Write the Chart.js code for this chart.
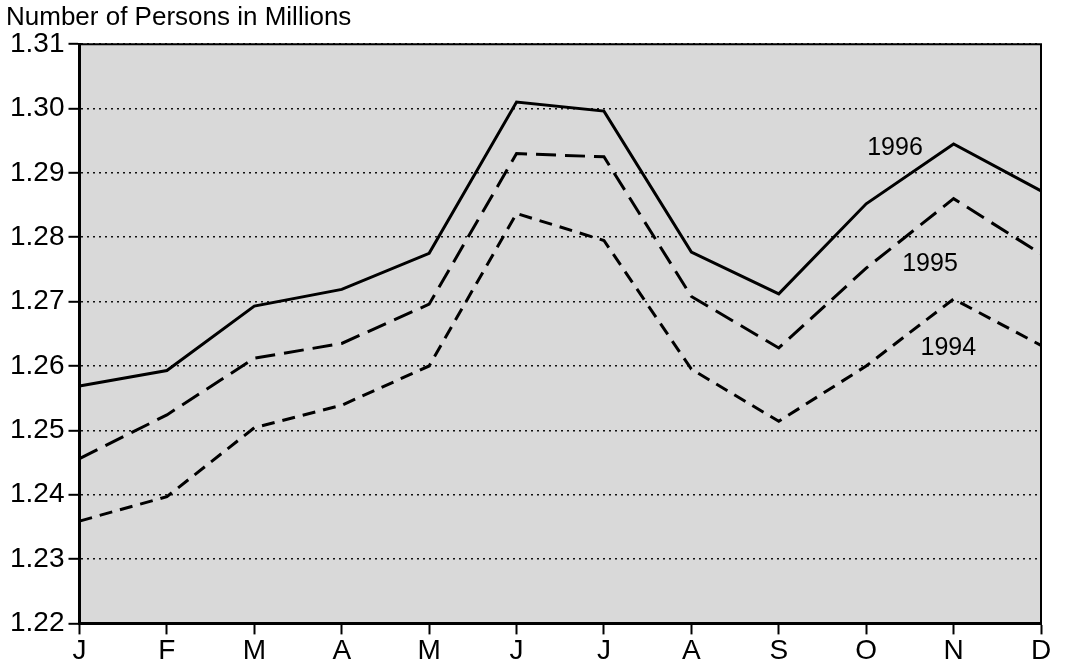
<!DOCTYPE html>
<html>
<head>
<meta charset="utf-8">
<script src="https://cdn.jsdelivr.net/npm/chart.js@4/dist/chart.umd.min.js"></script>
<style>
  html, body { margin: 0; padding: 0; background: #fff; }
  #wrap { width: 1068px; height: 668px; }
</style>
</head>
<body>
<div id="wrap"><canvas id="chart"></canvas></div>
<script>
const months = ['J', 'F', 'M', 'A', 'M', 'J', 'J', 'A', 'S', 'O', 'N', 'D'];
const y1996 = [1.2569, 1.2593, 1.2693, 1.2719, 1.2775, 1.3010, 1.2996, 1.2777, 1.2712, 1.2852, 1.2945, 1.2872];
const y1995 = [1.2456, 1.2524, 1.2612, 1.2635, 1.2696, 1.2930, 1.2925, 1.2708, 1.2628, 1.2752, 1.2860, 1.2774];
const y1994 = [1.2359, 1.2397, 1.2504, 1.2539, 1.2600, 1.2837, 1.2795, 1.2595, 1.2514, 1.2600, 1.2704, 1.2632];
const yMin = 1.22;
const yMax = 1.31;
const yStep = 0.01;

// series labels placed in data units (x = month index, y = value)
const seriesLabels = [
  { text: '1996', x: 9.33, y: 1.2939 },
  { text: '1995', x: 9.73, y: 1.2758 },
  { text: '1994', x: 9.94, y: 1.2627 }
];

const FONT = "'Liberation Sans', Arial, sans-serif";

const plotBackground = {
  id: 'plotBackground',
  beforeDraw(chart) {
    const { ctx, chartArea: a } = chart;
    ctx.save();
    ctx.fillStyle = '#d9d9d9';
    ctx.fillRect(a.left, a.top, a.right - a.left, a.bottom - a.top);
    ctx.restore();
  }
};

// box round the plot + the year labels next to the lines
const frameAndLabels = {
  id: 'frameAndLabels',
  afterDraw(chart) {
    const { ctx, chartArea: a, scales } = chart;
    ctx.save();
    ctx.setLineDash([]);
    ctx.strokeStyle = '#000';
    ctx.lineWidth = 2;
    ctx.beginPath();
    ctx.moveTo(a.left, a.top);
    ctx.lineTo(a.right, a.top);
    ctx.lineTo(a.right, a.bottom);
    ctx.stroke();
    ctx.lineWidth = 3;
    ctx.beginPath();
    ctx.moveTo(a.left, a.top);
    ctx.lineTo(a.left, a.bottom);
    ctx.lineTo(a.right, a.bottom);
    ctx.stroke();

    ctx.fillStyle = '#000';
    ctx.font = '25px ' + FONT;
    ctx.textAlign = 'center';
    ctx.textBaseline = 'middle';
    seriesLabels.forEach(l => {
      ctx.fillText(l.text, scales.x.getPixelForValue(l.x), scales.y.getPixelForValue(l.y));
    });
    ctx.restore();
  }
};

function lineSet(label, data, dash) {
  return {
    label: label,
    data: data,
    borderColor: '#000',
    borderWidth: 3,
    borderDash: dash,
    pointRadius: 0,
    tension: 0,
    fill: false
  };
}

new Chart(document.getElementById('chart'), {
  type: 'line',
  data: {
    labels: months,
    datasets: [
      lineSet('1996', y1996, []),
      lineSet('1995', y1995, [20, 9]),
      lineSet('1994', y1994, [13, 8])
    ]
  },
  options: {
    responsive: true,
    maintainAspectRatio: false,
    animation: false,
    devicePixelRatio: 1,
    layout: { padding: { left: 6, right: 27, top: 0, bottom: 0 } },
    plugins: {
      legend: { display: false },
      tooltip: { enabled: false },
      title: {
        display: true,
        text: 'Number of Persons in Millions',
        align: 'start',
        color: '#000',
        font: { family: FONT, size: 26, weight: 'normal' },
        padding: { top: 2, bottom: 11 }
      }
    },
    scales: {
      x: {
        offset: false,
        grid: {
          drawOnChartArea: false,
          drawTicks: true,
          tickLength: 11,
          tickWidth: 2,
          tickColor: '#000'
        },
        border: { display: true, color: '#000', width: 3 },
        ticks: {
          color: '#000',
          font: { family: FONT, size: 28 },
          padding: 0,
          maxRotation: 0,
          autoSkip: false
        }
      },
      y: {
        min: yMin,
        max: yMax,
        grid: {
          color: '#111',
          lineWidth: 1.6,
          drawTicks: true,
          tickLength: 11,
          tickWidth: 2,
          tickColor: '#000',
          tickBorderDash: []
        },
        border: { display: true, color: '#000', width: 3, dash: [2, 4] },
        ticks: {
          stepSize: yStep,
          color: '#000',
          font: { family: FONT, size: 28 },
          padding: 4,
          callback: v => v.toFixed(2)
        }
      }
    }
  },
  plugins: [plotBackground, frameAndLabels]
});
</script>
</body>
</html>
